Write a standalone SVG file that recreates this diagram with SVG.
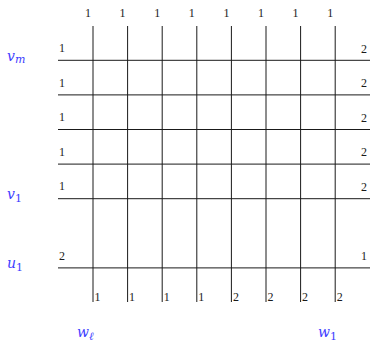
<svg xmlns="http://www.w3.org/2000/svg" width="370" height="343" viewBox="0 0 370 343">
<style>
.num{font-family:"Liberation Serif","DejaVu Serif",serif;font-size:12px;fill:#1a1a1a}
.lab{font-family:"DejaVu Serif","Liberation Serif",serif;font-size:14px;font-style:italic;fill:#3d3dff}
.sub{font-size:11px}
.sub1{font-size:11px;font-style:normal}
.ln{stroke:#1a1a1a;stroke-width:1;fill:none}
</style>
<rect width="370" height="343" fill="#fff"/>
<g id="connectors">
<path class="ln" d="M93 26V302M127.6 26V302M162.2 26V302M196.8 26V302M231.4 26V302M266 26V302M300.6 26V302M335.2 26V302"/>
<path class="ln" d="M58 60.3H370M58 94.9H370M58 129.5H370M58 164.1H370M58 198.7H370M58 267.9H370"/>
</g>
<g id="top-labels" class="num" text-anchor="middle">
<text x="88" y="17">1</text><text x="122.6" y="17">1</text><text x="157.2" y="17">1</text><text x="191.8" y="17">1</text><text x="226.4" y="17">1</text><text x="261" y="17">1</text><text x="295.6" y="17">1</text><text x="330.2" y="17">1</text>
</g>
<g id="left-labels" class="num">
<text x="59" y="52">1</text><text x="59" y="86.6">1</text><text x="59" y="121.2">1</text><text x="59" y="155.8">1</text><text x="59" y="190.4">1</text><text x="59" y="259.6">2</text>
</g>
<g id="right-labels" class="num">
<text x="361" y="52.5">2</text><text x="361" y="87.1">2</text><text x="361" y="121.7">2</text><text x="361" y="156.3">2</text><text x="361" y="190.9">2</text><text x="361" y="260.1">1</text>
</g>
<g id="bottom-labels" class="num">
<text x="94.5" y="301">1</text><text x="129.1" y="301">1</text><text x="163.7" y="301">1</text><text x="198.3" y="301">1</text><text x="232.9" y="301">2</text><text x="267.5" y="301">2</text><text x="302.1" y="301">2</text><text x="336.7" y="301">2</text>
</g>
<g id="vm" class="lab"><text x="7" y="61">v<tspan class="sub" dy="2">m</tspan></text></g>
<g id="v1" class="lab"><text x="7" y="199">v<tspan class="sub1" dy="3">1</tspan></text></g>
<g id="u1" class="lab"><text x="7" y="268">u<tspan class="sub1" dy="3">1</tspan></text></g>
<g id="wl" class="lab"><text x="77" y="337">w<tspan class="sub" dy="3">ℓ</tspan></text></g>
<g id="w1" class="lab"><text x="318" y="337">w<tspan class="sub1" dy="3">1</tspan></text></g>
</svg>
